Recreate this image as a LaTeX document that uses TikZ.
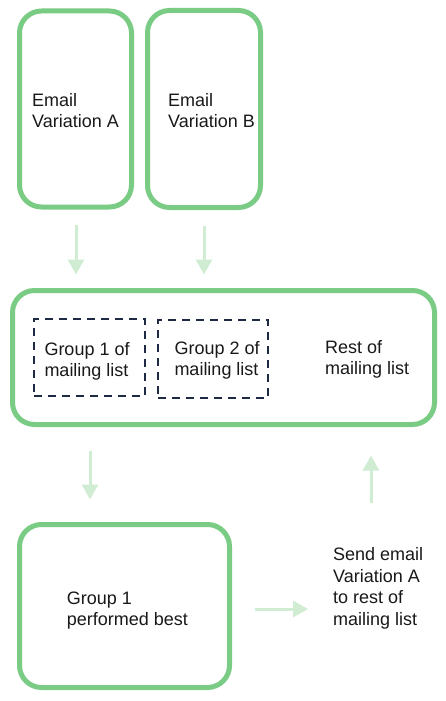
\documentclass[tikz,border=0pt]{standalone}
\usepackage{fontspec}
\setmainfont{Liberation Sans}
\usetikzlibrary{arrows.meta}
\definecolor{boxgreen}{RGB}{122,204,133}
\definecolor{arrowgreen}{RGB}{208,237,211}
\definecolor{navy}{RGB}{30,42,68}
\definecolor{txt}{RGB}{25,25,25}
\begin{document}
\begin{tikzpicture}[x=1pt,y=-1pt,
  gbox/.style={draw=boxgreen,line width=5pt,rounded corners=22pt,inner sep=0pt},
  dbox/.style={draw=navy,line width=2pt,dash pattern=on 8pt off 6pt,inner sep=0pt},
  lbl/.style={font=\fontsize{18}{21.5}\selectfont,text=txt,align=left,inner sep=0pt,anchor=west},
  flow/.style={draw=arrowgreen,line width=3pt,-{Triangle[width=16pt,length=15pt]}}]
\useasboundingbox (0,0) rectangle (445,701);
\fill[white] (0,0) rectangle (445,701);
% boxes
\node[gbox,minimum width=112pt,minimum height=196pt] (A) at (75.5,109) {};
\node[gbox,minimum width=113pt,minimum height=197pt] (B) at (204,109) {};
\node[gbox,minimum width=422pt,minimum height=134pt] (big) at (223.5,357.5) {};
\node[dbox,minimum width=111pt,minimum height=77pt] (g1) at (89.5,357.5) {};
\node[dbox,minimum width=110pt,minimum height=78pt] (g2) at (213,359) {};
\node[gbox,minimum width=210pt,minimum height=163pt] (best) at (124.5,606) {};
% labels
\node[lbl] (tA) at (32,110.5) {Email\\Variation A};
\node[lbl] (tB) at (168,110.5) {Email\\Variation B};
\node[lbl] (t1) at (44.3,361.5) {Group 1 of\\mailing list};
\node[lbl] (t2) at (174.3,360.5) {Group 2 of\\mailing list};
\node[lbl] (rest) at (325,359.5) {Rest of\\mailing list};
\node[lbl] (tbest) at (66.7,610.5) {Group 1\\performed best};
\node[lbl] (send) at (333,588.5) {Send email\\Variation A\\to rest of\\mailing list};
% arrows
\draw[flow,shorten <=15.5pt,shorten >=13.5pt] ([xshift=0.5pt]A.south) -- ([xshift=0.5pt]A.south |- big.north);
\draw[flow,shorten <=15.5pt,shorten >=13.5pt] (B.south) -- (B.south |- big.north);
\coordinate (dx) at (90,0);
\draw[flow,shorten <=23.5pt,shorten >=22.5pt] (dx |- big.south) -- (dx |- best.north);
\coordinate (ux) at (371,503);
\draw[flow,shorten >=28.5pt] (ux) -- (ux |- big.south);
\coordinate (ry) at (0,609);
\draw[flow,shorten <=22.5pt,shorten >=25pt] (best.east |- ry) -- (send.west |- ry);
\end{tikzpicture}
\end{document}
